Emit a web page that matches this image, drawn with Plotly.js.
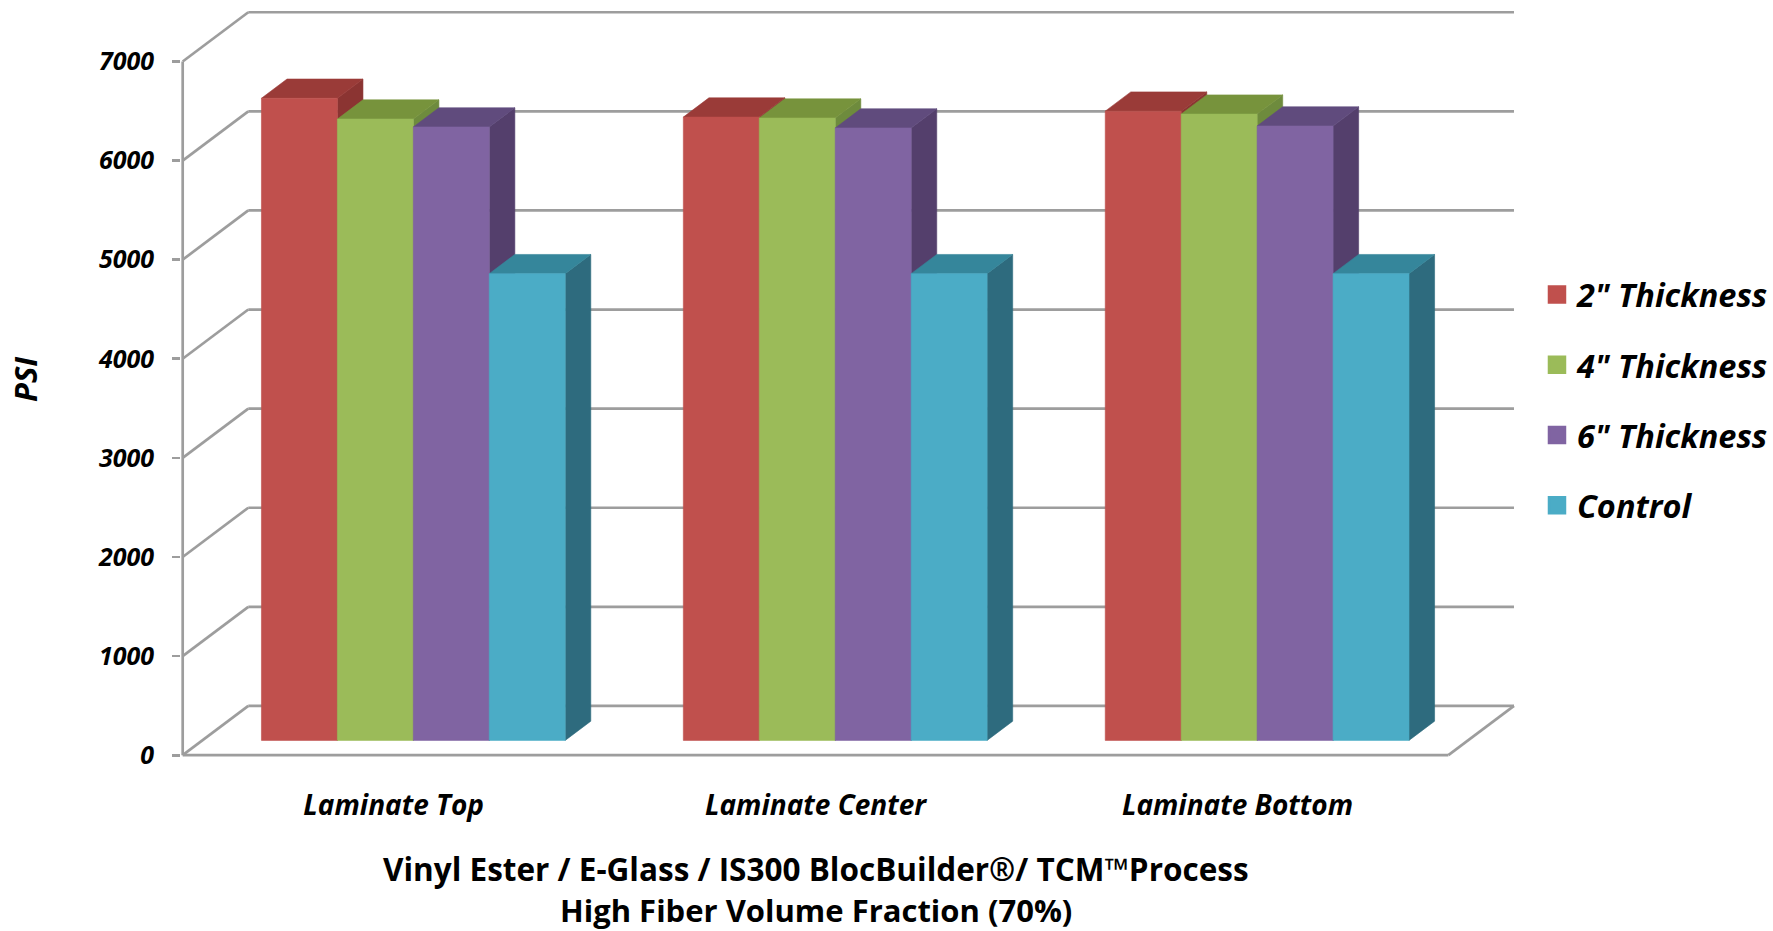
<!DOCTYPE html>
<html>
<head>
<meta charset="utf-8">
<script src="https://cdn.plot.ly/plotly-3.0.1.min.js"></script>
<style>
  html, body { margin: 0; padding: 0; background: #ffffff; }
  #chart { width: 1773px; height: 931px; }
</style>
</head>
<body>
<div id="chart"></div>
<script>
// ---- data -------------------------------------------------------------
const categories = ['Laminate Top', 'Laminate Center', 'Laminate Bottom'];
const seriesNames = ['2" Thickness', '4" Thickness', '6" Thickness', 'Control'];
const thickness2 = [6480, 6290, 6350];
const thickness4 = [6270, 6280, 6320];
const thickness6 = [6190, 6180, 6200];
const control = [4710, 4710, 4710];
const yTickValues = [0, 1000, 2000, 3000, 4000, 5000, 6000, 7000];
const yTickLabels = ['0', '1000', '2000', '3000', '4000', '5000', '6000', '7000'];
const titleLine1 = 'Vinyl Ester / E-Glass / IS300 BlocBuilder®/ TCM™Process';
const titleLine2 = 'High Fiber Volume Fraction (70%)';
const yTitle = 'PSI';

// ---- styling ------------------------------------------------------------
const seriesValues = [thickness2, thickness4, thickness6, control];
const frontColors = ['#C0504D', '#9BBB59', '#8064A2', '#4BACC6'];
const topColors   = ['#9A3B38', '#77933C', '#604B7D', '#35869B'];
const sideColors  = ['#8B3432', '#6E8B3D', '#543F6C', '#2E6B7E'];
const gridColor = '#9d9d9d';
const FONT = 'Open Sans, Lato, sans-serif';

// oblique depth of the box: full depth moves this far right (x units) and up (PSI)
const DEPTH_X = 0.1555;
const DEPTH_Y = 497;
const BAR_FRONT = 0.30;   // depth fraction of the bar front faces
const BAR_BACK = 0.69;    // depth fraction of the bar back faces
const GROUP_WIDTH = 0.72;
const BAR_WIDTH = GROUP_WIDTH / seriesValues.length;
const Y_TOP = yTickValues[yTickValues.length - 1];
const X_MIN = -0.5, X_MAX = categories.length - 0.5;

const traces = [];

// ---- walls, floor and axis ---------------------------------------------
const gx = [], gy = [];
function seg(x0, y0, x1, y1) { gx.push(x0, x1, null); gy.push(y0, y1, null); }
yTickValues.forEach(v => {
  seg(X_MIN + DEPTH_X, v + DEPTH_Y, X_MAX + DEPTH_X, v + DEPTH_Y);   // back wall line
  seg(X_MIN, v, X_MIN + DEPTH_X, v + DEPTH_Y);                       // side wall diagonal
});
seg(X_MIN, 0, X_MIN, Y_TOP);                                         // front value axis
seg(X_MIN, 0, X_MAX, 0);                                             // floor front edge
seg(X_MAX, 0, X_MAX + DEPTH_X, DEPTH_Y);                             // floor right edge
traces.push({
  type: 'scatter', mode: 'lines', x: gx, y: gy,
  line: { color: gridColor, width: 2.7 },
  hoverinfo: 'skip', showlegend: false, cliponaxis: false
});

// ---- bars (side, top, front per series; left to right) -----------------
const dX = (BAR_BACK - BAR_FRONT) * DEPTH_X;
const dY = (BAR_BACK - BAR_FRONT) * DEPTH_Y;
const baseX = BAR_FRONT * DEPTH_X;
const baseY = BAR_FRONT * DEPTH_Y;

seriesValues.forEach((vals, k) => {
  const side = { x: [], y: [] }, top = { x: [], y: [] }, front = { x: [], y: [] };
  vals.forEach((v, i) => {
    const xl = i - GROUP_WIDTH / 2 + k * BAR_WIDTH + baseX;
    const xr = xl + BAR_WIDTH;
    const y0 = baseY, y1 = v + baseY;
    side.x.push(xr, xr, xr + dX, xr + dX, xr, null);
    side.y.push(y0, y1, y1 + dY, y0 + dY, y0, null);
    top.x.push(xl, xr, xr + dX, xl + dX, xl, null);
    top.y.push(y1, y1, y1 + dY, y1 + dY, y1, null);
    front.x.push(xl, xr, xr, xl, xl, null);
    front.y.push(y0, y0, y1, y1, y0, null);
  });
  [[side, sideColors[k]], [top, topColors[k]], [front, frontColors[k]]].forEach(([poly, col]) => {
    traces.push({
      type: 'scatter', mode: 'lines', x: poly.x, y: poly.y,
      fill: 'toself', fillcolor: col,
      line: { color: col, width: 0.6 },
      hoverinfo: 'skip', showlegend: false
    });
  });
});

// ---- legend entries ------------------------------------------------------
seriesNames.forEach((name, k) => {
  traces.push({
    type: 'scatter', mode: 'markers', x: [null], y: [null], name: name,
    legendgroup: 'g' + k,
    marker: { symbol: 'square', size: 16, color: frontColors[k],
              line: { color: frontColors[k], width: 2.5 } }
  });
});

const layout = {
  width: 1773, height: 931,
  margin: { l: 181, r: 255, t: 6, b: 156, autoexpand: false },
  paper_bgcolor: '#ffffff', plot_bgcolor: 'rgba(0,0,0,0)',
  showlegend: true,
  legend: {
    x: 1.0142, xanchor: 'left', y: 0.6606, yanchor: 'top',
    traceorder: 'grouped', tracegroupgap: 25,
    itemsizing: 'trace',
    font: { family: FONT, size: 32.5, color: '#000000', weight: 'bold', style: 'italic' },
    bgcolor: 'rgba(0,0,0,0)'
  },
  xaxis: {
    range: [-0.504, -0.504 + 1337 / 421.9],
    tickmode: 'array', tickvals: categories.map((c, i) => i), ticktext: categories,
    ticks: '', showgrid: false, zeroline: false, showline: false,
    ticklabelstandoff: 11,
    tickfont: { family: FONT, size: 28, color: '#000000', weight: 'bold', style: 'italic' },
    fixedrange: true
  },
  yaxis: {
    range: [-200, 7560],
    tickmode: 'array', tickvals: yTickValues, ticktext: yTickLabels,
    ticks: 'outside', ticklen: 8, tickwidth: 2.7, tickcolor: gridColor,
    ticklabelstandoff: 13,
    showgrid: false, zeroline: false, showline: false,
    tickfont: { family: FONT, size: 25, color: '#000000', weight: 'bold', style: 'italic' },
    fixedrange: true
  },
  annotations: [
    { text: titleLine1, xref: 'x', x: 1, yref: 'paper', y: (775 - 868) / 769,
      xanchor: 'center', yanchor: 'middle', showarrow: false,
      font: { family: FONT, size: 31.5, color: '#000000', weight: 'bold' } },
    { text: titleLine2, xref: 'x', x: 1, yref: 'paper', y: (775 - 910) / 769,
      xanchor: 'center', yanchor: 'middle', showarrow: false,
      font: { family: FONT, size: 31, color: '#000000', weight: 'bold' } },
    { text: yTitle, xref: 'paper', x: (25 - 181) / 1337, yref: 'paper', y: (775 - 379) / 769,
      xanchor: 'center', yanchor: 'middle', textangle: -90, showarrow: false,
      font: { family: FONT, size: 31, color: '#000000', weight: 'bold', style: 'italic' } }
  ]
};

Plotly.newPlot('chart', traces, layout, { staticPlot: true, displayModeBar: false });
</script>
</body>
</html>
